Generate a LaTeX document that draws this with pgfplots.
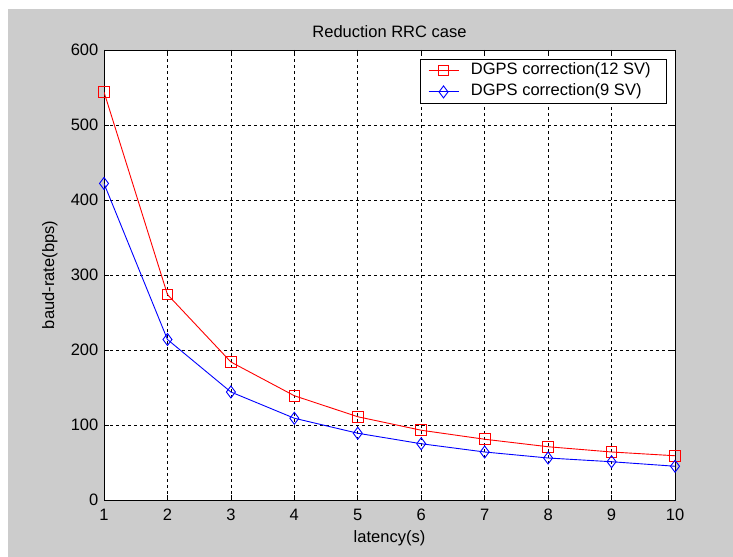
\documentclass[border=0pt]{standalone}
\usepackage{fontspec}
\setmainfont{Liberation Sans}
\usepackage{pgfplots}
\pgfplotsset{compat=1.18}
\definecolor{figgray}{RGB}{204,204,204}
\pgfplotstableread{
x y
1 544
2 274
3 184
4 139
5 111
6 93
7 81
8 71
9 64
10 59
}\redtab
\pgfplotstableread{
x y
1 422
2 214
3 144
4 109
5 89
6 75
7 64
8 56
9 51
10 45
}\bluetab
\begin{document}
\fontsize{16.5bp}{19bp}\selectfont
\begin{tikzpicture}[x=1bp,y=1bp]
\fill[white] (0,0) rectangle (733,557);
\fill[figgray] (8,0) rectangle (733,548);
\useasboundingbox (0,0) rectangle (733,557);
\begin{axis}[
 at={(104bp,57bp)}, anchor=south west,
 width=571bp, height=450bp, scale only axis,
 xmin=1, xmax=10, ymin=0, ymax=600,
 xtick={1,...,10}, ytick={0,100,...,600},
 axis background/.style={fill=white},
 grid=major,
 major grid style={black, line width=0.6bp, dash pattern=on 3bp off 3bp},
 tick align=inside, major tick length=5bp,
 tick style={black, line width=0.6bp},
 axis line style={black, line width=0.8bp},
 /pgf/number format/assume math mode=true,
 ticklabel style={font=\fontsize{16.5bp}{19bp}\selectfont},
 xticklabel style={yshift=-3bp},
 label style={font=\fontsize{16.5bp}{19bp}\selectfont},
 title style={font=\fontsize{16.5bp}{19bp}\selectfont, at={(axis description cs:0.5,1)}, anchor=center, yshift=12bp},
 title={Reduction RRC case},
 xlabel={latency(s)},
 xlabel style={at={(axis description cs:0.5,0)}, anchor=center, yshift=-38bp},
 ylabel={baud-rate(bps)},
 ylabel style={at={(axis description cs:-0.0946,0.5)}, anchor=center, rotate=0},
 legend style={at={(axis description cs:0.986,0.98)}, anchor=north east,
   draw=black, line width=0.6bp, fill=white,
   font=\fontsize{16.5bp}{19bp}\selectfont,
   inner xsep=8bp, inner ysep=3bp, row sep=5.6bp,
   nodes={inner sep=0pt, text height=12bp, text depth=4bp}},
 legend cell align=left,
 legend image code/.code={\path (0bp,0bp) (42bp,0bp);\draw[mark repeat=2,mark phase=2,#1] plot coordinates {(0bp,0bp) (15bp,0bp) (30bp,0bp)};},
]
\addplot[red, line width=0.9bp, mark=square, mark size=5.3bp, mark options={line width=0.9bp}] table[x=x,y=y] {\redtab};
\addlegendentry{DGPS correction(12 SV)\hspace*{8bp}}
\addplot[blue, line width=0.9bp, mark=diamond, mark size=6bp, mark options={line width=0.9bp}] table[x=x,y=y] {\bluetab};
\addlegendentry{DGPS correction(9 SV)}
\end{axis}
\end{tikzpicture}
\end{document}
